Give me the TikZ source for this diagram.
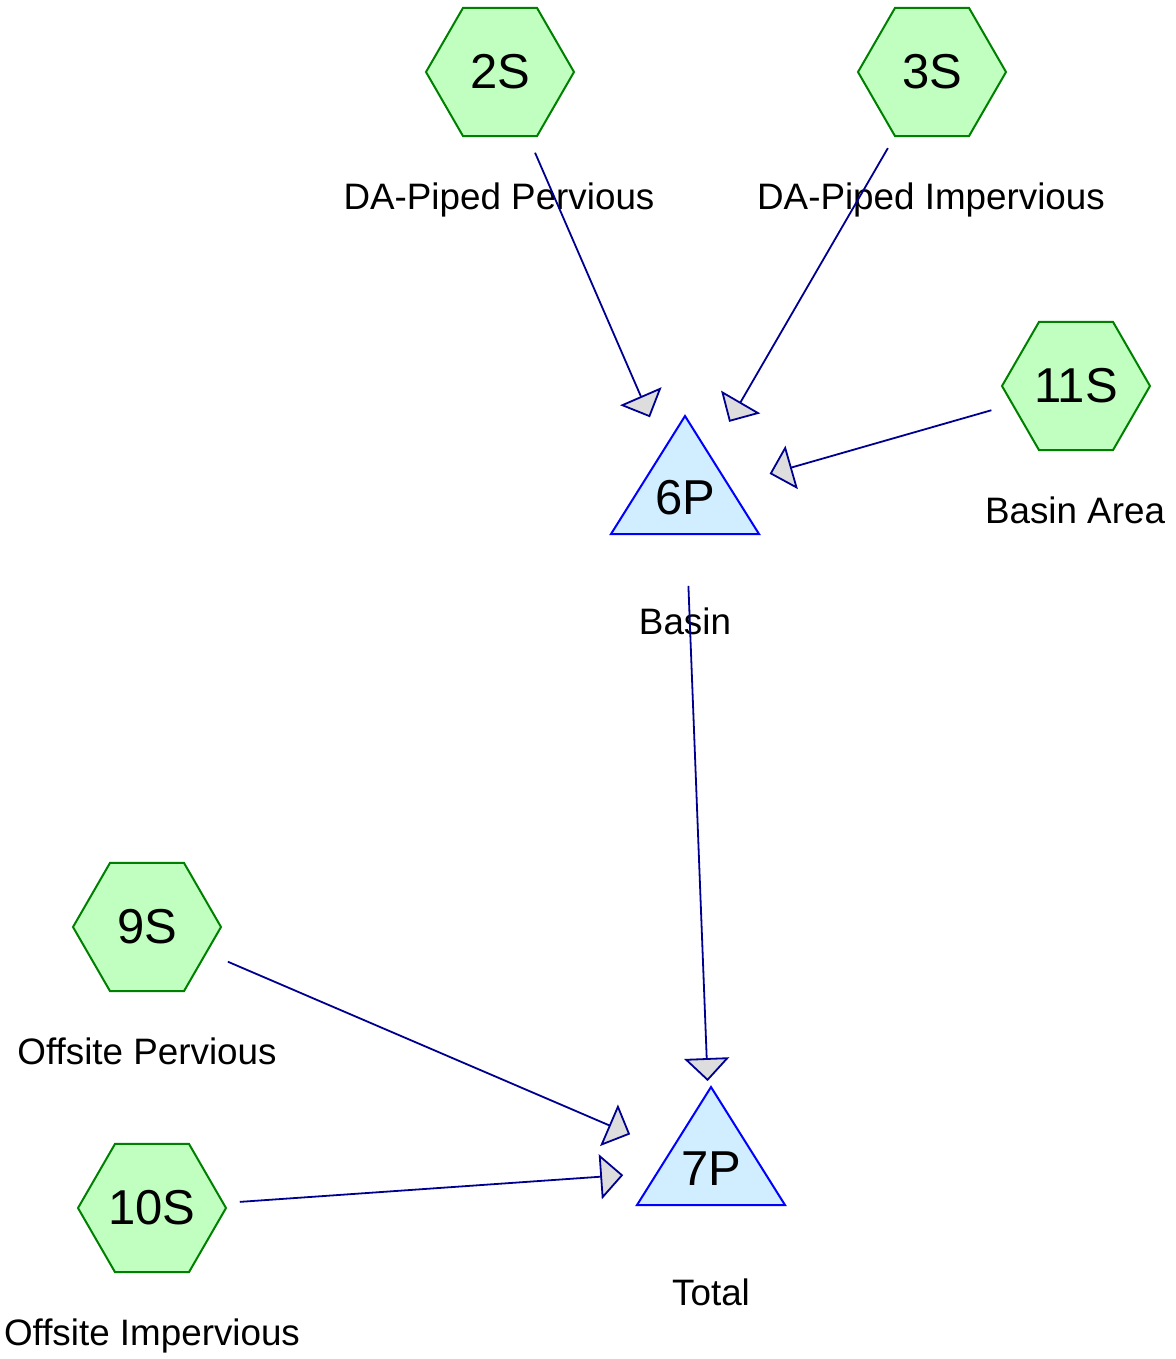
\documentclass[tikz,border=0pt]{standalone}
\usepackage{fontspec}
\setmainfont{Liberation Sans}
\usepackage{tikz}
\usetikzlibrary{shapes.geometric, arrows.meta, positioning}
\usepackage{xcolor}
\definecolor{subcatfill}{HTML}{C0FFC0}
\definecolor{subcatline}{HTML}{008000}
\definecolor{pondfill}{HTML}{D0EEFF}
\definecolor{pondline}{HTML}{0000FF}
\definecolor{flowline}{HTML}{000090}
\definecolor{headfill}{HTML}{DDDDDD}

\begin{document}
\begin{tikzpicture}[
        x=0.5pt, y=-0.5pt,
        subcat/.style={
          regular polygon,
          regular polygon sides=6,
          minimum size=74pt,
          inner sep=0pt,
          draw=subcatline,
          fill=subcatfill,
          line width=1pt,
          font=\fontsize{24.5}{28}\selectfont
        },
        pond/.style={
          draw=pondline,
          fill=pondfill,
          line width=1pt
        },
        pondtext/.style={
          inner sep=0pt,
          font=\fontsize{24.5}{28}\selectfont
        },
        caption/.style={
          anchor=base,
          inner sep=0pt,
          font=\fontsize{18.4}{22}\selectfont
        },
        flow/.style={
          -{Triangle[length=11.5pt, width=22.5pt, fill=headfill]},
          draw=flowline,
          line width=0.9pt,
          shorten >=44pt,
          shorten <=44pt
        }
      ]

      \useasboundingbox (0,0) rectangle (1175,1359);

      % Ponds
      \draw[pond] (685,416) -- (759,534) -- (611,534) -- cycle;
      \draw[pond] (711,1087) -- (785,1205) -- (637,1205) -- cycle;
      \node[pondtext] (p6) at (685,498) {6P};
      \node[pondtext] (p7) at (711,1169) {7P};

      % Subcatchments
      \node[subcat] (s2) at (500,72) {2S};
      \node[subcat] (s3) at (932,72) {3S};
      \node[subcat] (s11) at (1076,386) {11S};
      \node[subcat] (s9) at (147,927) {9S};
      \node[subcat] (s10) at (152,1208) {10S};

      % Captions
      \node[caption] (c2) at (499,209) {DA-Piped Pervious};
      \node[caption] (c3) at (931,209) {DA-Piped Impervious};
      \node[caption] (c11) at (1075,523) {Basin Area};
      \node[caption] (c6) at (685,634) {Basin};
      \node[caption] (c9) at (147,1064) {Offsite Pervious};
      \node[caption] (c10) at (152,1345) {Offsite Impervious};
      \node[caption] (c7) at (711,1305) {Total};

      % Flows
      \draw[flow] (s2.center) -- (p6.center);
      \draw[flow] (s3.center) -- (p6.center);
      \draw[flow] (s11.center) -- (p6.center);
      \draw[flow] (p6.center) -- (p7.center);
      \draw[flow] (s9.center) -- (p7.center);
      \draw[flow] (s10.center) -- (p7.center);

    \end{tikzpicture}
\end{document}
